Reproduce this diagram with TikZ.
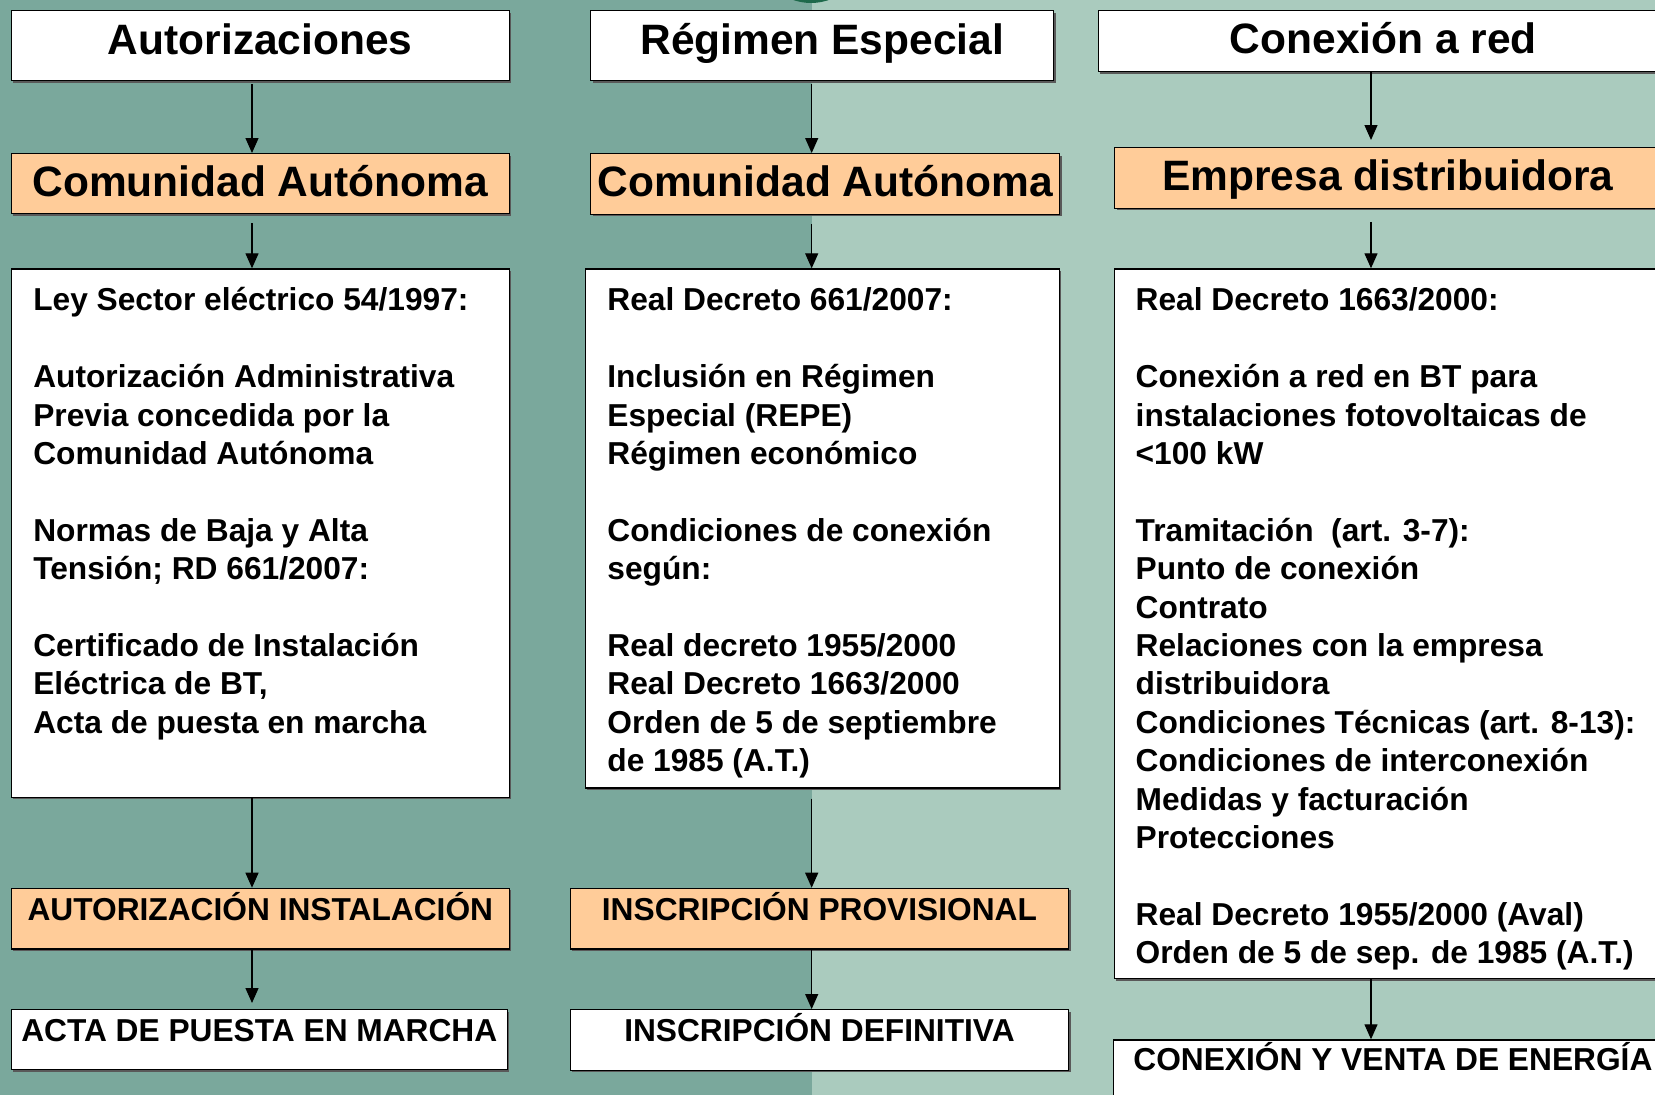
\documentclass[tikz,border=0pt]{standalone}
\usepackage{fontspec}
\setmainfont{Liberation Sans}
\usepackage{xcolor}
\usetikzlibrary{arrows.meta,shadows,calc}
\usetikzlibrary{positioning}

\definecolor{fondoosc}{RGB}{122,168,156}
\definecolor{fondoclaro}{RGB}{170,203,190}
\definecolor{naranja}{RGB}{255,204,153}
\definecolor{verdeosc}{RGB}{30,105,75}

\tikzset{
  caja/.style={draw=black, line width=1.4pt, fill=white, anchor=north west, inner sep=0pt,
    drop shadow={shadow xshift=2pt, shadow yshift=-2pt, fill=black!65, opacity=1}},
  cajanar/.style={caja, fill=naranja},
  titulo/.style={font=\fontsize{42.5}{51}\selectfont\bfseries, anchor=base, inner sep=0pt},
  etiqueta/.style={font=\fontsize{31.7}{38}\selectfont\bfseries, anchor=base, inner sep=0pt},
  cuerpo/.style={font=\fontsize{31.7}{38.4}\selectfont\bfseries, align=left, anchor=north west, inner sep=0pt},
  flecha/.style={-{Triangle[length=15pt,width=13pt]}, line width=1.3pt}
}

\begin{document}
\begin{tikzpicture}[x=1pt, y=-1pt]
  \useasboundingbox (0,0) rectangle (1655,1095);
  \fill[fondoosc] (0,0) rectangle (811.7,1095);
  \fill[fondoclaro] (811.7,0) rectangle (1655,1095);
  \fill[verdeosc] (811,-51) circle (54pt);

  \coordinate (xa) at (252,0);
  \coordinate (xb) at (811.7,0);
  \coordinate (xc) at (1371,0);

  % Autorizaciones
  \node[caja, minimum width=498pt, minimum height=70pt] (a1) at (10.6,10) {};
  \node[cajanar, minimum width=498pt, minimum height=60pt] (a2) at (10.6,153) {};
  \node[caja, minimum width=498pt, minimum height=528.4pt] (a3) at (10.6,268.3) {};
  \node[cajanar, minimum width=498pt, minimum height=60.6pt] (a4) at (10.6,887.7) {};
  \node[caja, minimum width=496pt, minimum height=60pt] (a5) at (10.6,1009) {};

  \node[titulo] (ta1) at ([yshift=-44pt]a1.north) {Autorizaciones};
  \node[titulo] (ta2) at ([yshift=-43pt]a2.north) {Comunidad Autónoma};
  \node[cuerpo] (ta3) at ([xshift=22.5pt,yshift=-15.5pt]a3.north west) {\strut Ley Sector eléctrico 54/1997:\\[38.4pt]
    Autorización Administrativa\\
    Previa concedida por la\\
    Comunidad Autónoma\\[38.4pt]
    Normas de Baja y Alta\\
    Tensión; RD 661/2007:\\[38.4pt]
    Certificado de Instalación\\
    Eléctrica de BT,\\
    Acta de puesta en marcha};
  \node[etiqueta] (ta4) at ([yshift=-32.3pt]a4.north) {AUTORIZACIÓN INSTALACIÓN};
  \node[etiqueta] (ta5) at ([yshift=-32.5pt]a5.north) {ACTA DE PUESTA EN MARCHA};

  % Regimen Especial
  \node[caja, minimum width=463pt, minimum height=70pt] (b1) at (590,10) {};
  \node[cajanar, minimum width=469pt, minimum height=60.5pt] (b2) at (590,153) {};
  \node[caja, minimum width=474pt, minimum height=519pt] (b3) at (584.7,268.3) {};
  \node[cajanar, minimum width=498.5pt, minimum height=60.6pt] (b4) at (569.5,887.7) {};
  \node[caja, minimum width=498.5pt, minimum height=60.5pt] (b5) at (569.5,1009) {};

  \node[titulo] (tb1) at ([yshift=-44pt]b1.north) {Régimen Especial};
  \node[titulo] (tb2) at ([yshift=-43pt]b2.north) {Comunidad Autónoma};
  \node[cuerpo] (tb3) at ([xshift=22.5pt,yshift=-15.5pt]b3.north west) {\strut Real Decreto 661/2007:\\[38.4pt]
    Inclusión en Régimen\\
    Especial (REPE)\\
    Régimen económico\\[38.4pt]
    Condiciones de conexión\\
    según:\\[38.4pt]
    Real decreto 1955/2000\\
    Real Decreto 1663/2000\\
    Orden de 5 de septiembre\\
    de 1985 (A.T.)};
  \node[etiqueta] (tb4) at ([yshift=-32.3pt]b4.north) {INSCRIPCIÓN PROVISIONAL};
  \node[etiqueta] (tb5) at ([yshift=-32.7pt]b5.north) {INSCRIPCIÓN DEFINITIVA};

  % Conexion a red
  \node[caja, minimum width=570pt, minimum height=61pt] (c1) at (1097.6,10) {};
  \node[cajanar, minimum width=546pt, minimum height=60.5pt] (c2) at (1114,147) {};
  \node[caja, minimum width=570pt, minimum height=709.5pt] (c3) at (1113.5,268.3) {};
  \node[caja, minimum width=559pt, minimum height=80pt] (c4) at (1112.7,1039.3) {};

  \node[titulo] (tc1) at ([yshift=-43.5pt]c1.north) {Conexión a red};
  \node[titulo] (tc2) at ([yshift=-43pt]c2.north) {Empresa distribuidora};
  \node[cuerpo] (tc3) at ([xshift=22pt,yshift=-15.5pt]c3.north west) {\strut Real Decreto 1663/2000:\\[38.4pt]
    Conexión a red en BT para\\
    instalaciones fotovoltaicas de\\
    <100 kW\\[38.4pt]
    Tramitación\ \ (art. 3-7):\\
    Punto de conexión\\
    Contrato\\
    Relaciones con la empresa\\
    distribuidora\\
    Condiciones Técnicas (art. 8-13):\\
    Condiciones de interconexión\\
    Medidas y facturación\\
    Protecciones\\[38.4pt]
    Real Decreto 1955/2000 (Aval)\\
    Orden de 5 de sep. de 1985 (A.T.)};
  \node[etiqueta] (tc4) at ([yshift=-31.5pt]c4.north) {CONEXIÓN Y VENTA DE ENERGÍA};

  \draw[flecha, shorten <=3pt] (a1.south -| xa) -- (a2.north -| xa);
  \draw[flecha, shorten <=9pt] (a2.south -| xa) -- (a3.north -| xa);
  \draw[flecha] (a3.south -| xa) -- (a4.north -| xa);
  \draw[flecha, shorten >=6pt] (a4.south -| xa) -- (a5.north -| xa);

  \draw[flecha, shorten <=3pt] (b1.south -| xb) -- (b2.north -| xb);
  \draw[flecha, shorten <=9pt] (b2.south -| xb) -- (b3.north -| xb);
  \draw[flecha, shorten <=10pt] (b3.south -| xb) -- (b4.north -| xb);
  \draw[flecha] (b4.south -| xb) -- (b5.north -| xb);

  \draw[flecha, shorten >=7pt] (c1.south -| xc) -- (c2.north -| xc);
  \draw[flecha, shorten <=13pt] (c2.south -| xc) -- (c3.north -| xc);
  \draw[flecha] (c3.south -| xc) -- (c4.north -| xc);
\end{tikzpicture}
\end{document}
